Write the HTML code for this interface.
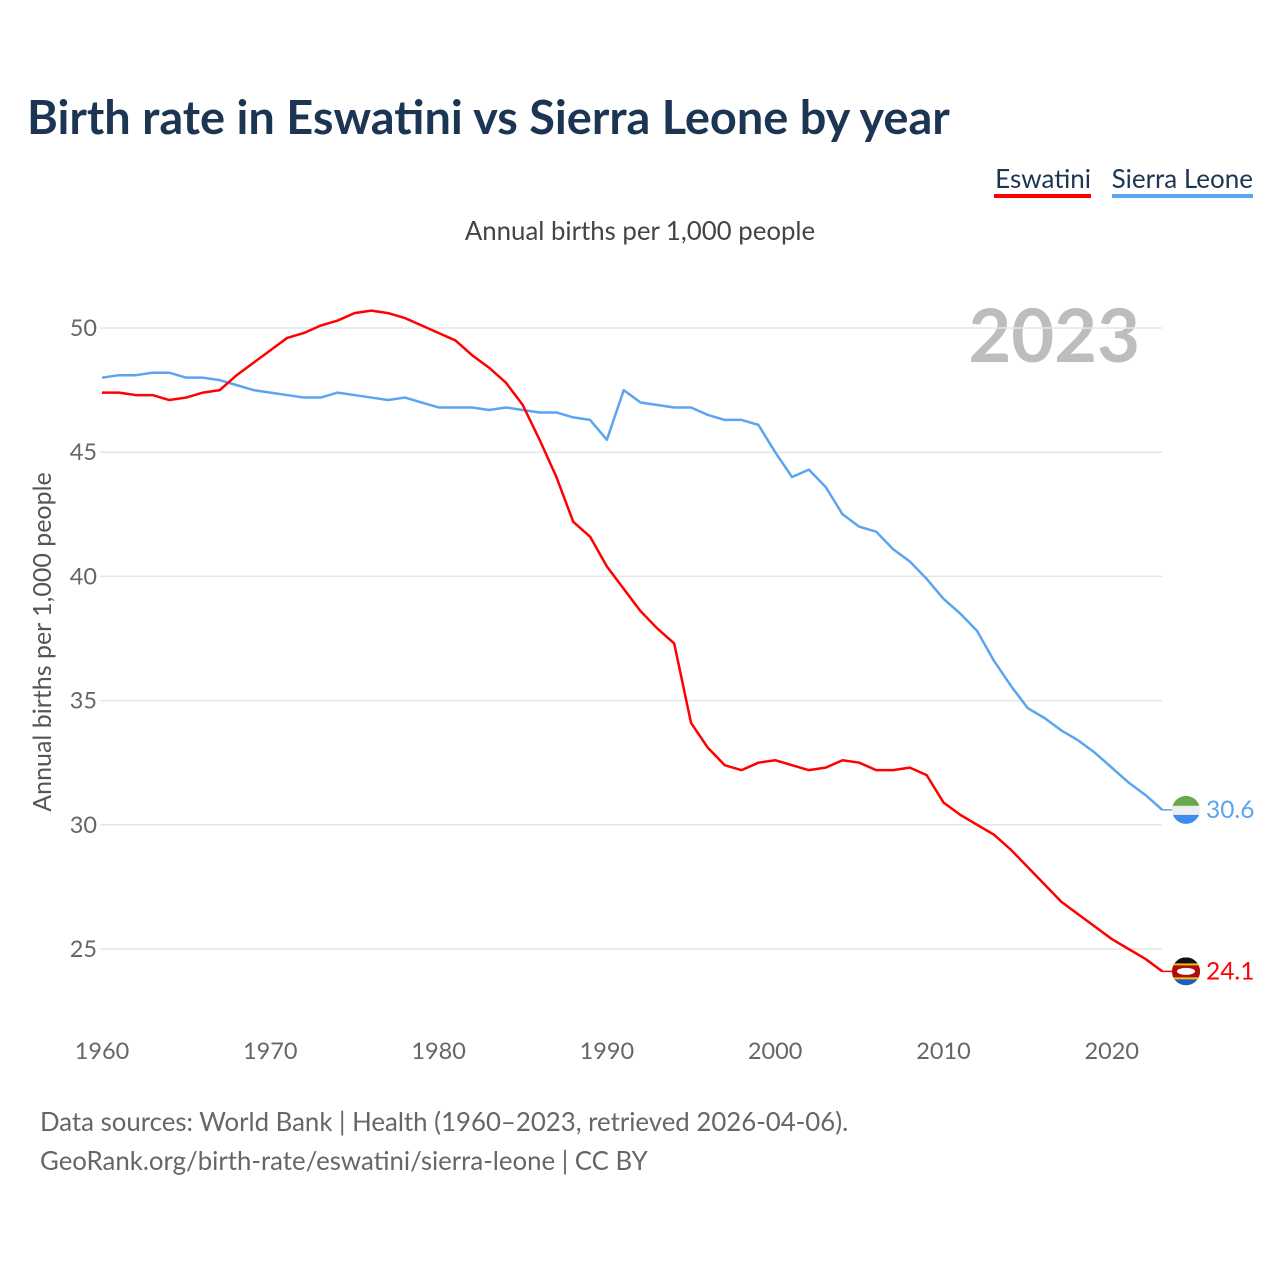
<!DOCTYPE html>
<html><head><meta charset="utf-8"><style>
body{margin:0;background:#fff;font-family:"Liberation Sans",sans-serif}
#wrap{position:relative;width:1280px;height:1280px;overflow:hidden}
</style></head><body>
<div id="wrap">
<svg id="chart" width="1280" height="1280" font-family="Lato, 'Liberation Sans', sans-serif">
<text x="27" y="134" font-size="46.9" font-weight="bold" fill="#1c3553">Birth rate in Eswatini vs Sierra Leone by year</text>
<g><text x="1091" y="188" font-size="26" fill="#1c3553" text-anchor="end">Eswatini</text><rect x="994" y="194" width="97" height="4" fill="#ff0000"/></g>
<g><text x="1253" y="188" font-size="26" fill="#1c3553" text-anchor="end">Sierra Leone</text><rect x="1112" y="194" width="141" height="4" fill="#5aa5f0"/></g>
<text x="640" y="240" font-size="25.8" fill="#444" text-anchor="middle">Annual births per 1,000 people</text>
<text x="1140" y="362" font-size="74" font-weight="bold" fill="#bdbdbd" text-anchor="end">2023</text>
<text transform="translate(51,642) rotate(-90)" font-size="25" fill="#555" text-anchor="middle">Annual births per 1,000 people</text>
<g id="grid"></g><g id="yticks"></g><g id="xticks"></g><g id="lines"></g><g id="ends"></g>
<text x="40" y="1131" font-size="25.8" fill="#666">Data sources: World Bank | Health (1960–2023, retrieved 2026-04-06).</text>
<text x="40" y="1170" font-size="25.8" fill="#666">GeoRank.org/birth-rate/eswatini/sierra-leone | CC BY</text>
</svg>
</div>
<script>
const years=[];for(let y=1960;y<=2023;y++)years.push(y);
const eswatini=[47.4,47.4,47.3,47.3,47.1,47.2,47.4,47.5,48.1,48.6,49.1,49.6,49.8,50.1,50.3,50.6,50.7,50.6,50.4,50.1,49.8,49.5,48.9,48.4,47.8,46.9,45.5,44.0,42.2,41.6,40.4,39.5,38.6,37.9,37.3,34.1,33.1,32.4,32.2,32.5,32.6,32.4,32.2,32.3,32.6,32.5,32.2,32.2,32.3,32.0,30.9,30.4,30.0,29.6,29.0,28.3,27.6,26.9,26.4,25.9,25.4,25.0,24.6,24.1];
const sierraLeone=[48.0,48.1,48.1,48.2,48.2,48.0,48.0,47.9,47.7,47.5,47.4,47.3,47.2,47.2,47.4,47.3,47.2,47.1,47.2,47.0,46.8,46.8,46.8,46.7,46.8,46.7,46.6,46.6,46.4,46.3,45.5,47.5,47.0,46.9,46.8,46.8,46.5,46.3,46.3,46.1,45.0,44.0,44.3,43.6,42.5,42.0,41.8,41.1,40.6,39.9,39.1,38.5,37.8,36.6,35.6,34.7,34.3,33.8,33.4,32.9,32.3,31.7,31.2,30.6];
const yTicks=[25,30,35,40,45,50];
const xTicks=[1960,1970,1980,1990,2000,2010,2020];
const NS="http://www.w3.org/2000/svg";
const x=v=>102+(v-1960)*16.83;
const y=v=>328+(50-v)*24.84;
function mk(tag,attrs,parent){const e=document.createElementNS(NS,tag);for(const k in attrs)e.setAttribute(k,attrs[k]);document.getElementById(parent).appendChild(e);return e;}
yTicks.forEach(t=>{
 const l=mk('line',{x1:100,x2:1162,y1:y(t),y2:y(t),stroke:'#e6e6e6','stroke-width':1.5},'grid');
 
 
 const tx=mk('text',{x:97,y:y(t)+8,'font-size':23.5,fill:'#666','text-anchor':'end'},'yticks');
 tx.textContent=t;
 
 
});
xTicks.forEach(t=>{
 const tx=mk('text',{x:x(t),y:1059,'font-size':23.5,fill:'#666','text-anchor':'middle'},'xticks');
 tx.textContent=t;
 
 
});
function line(data,color,name){
 const p=mk('polyline',{points:data.map((v,i)=>x(years[i])+','+y(v)).join(' '),fill:'none',stroke:color,'stroke-width':2.5,'stroke-linejoin':'round'},'lines');
 
 
}
line(sierraLeone,'#5aa5f0','sierra-leone-line');
line(eswatini,'#ff0000','eswatini-line');
function endLabel(data,color,name,flag){
 const v=data[data.length-1],yy=y(v),cx=1186;
 mk('line',{x1:x(2023),x2:cx,y1:yy,y2:yy,stroke:color,'stroke-width':1.5},'ends');
 const g=mk('g',{},'ends');
 
 
 flag(g,cx,yy);
 const t=mk('text',{x:1206,y:yy+8,'font-size':24.5,fill:color},'ends');
 t.textContent=v.toFixed(1);
 
 
}
function addTo(g,tag,attrs){const e=document.createElementNS(NS,tag);for(const k in attrs)e.setAttribute(k,attrs[k]);g.appendChild(e);return e;}
endLabel(sierraLeone,'#5aa5f0','sierra-leone',(g,cx,cy)=>{
 const id='clipSL';const cp=addTo(g,'clipPath',{id});addTo(cp,'circle',{cx,cy,r:14});
 const h=addTo(g,'g',{'clip-path':'url(#'+id+')'});
 addTo(h,'rect',{x:cx-14,y:cy-14,width:28,height:10,fill:'#6aa84f'});
 addTo(h,'rect',{x:cx-14,y:cy-4,width:28,height:9,fill:'#eeeeee'});
 addTo(h,'rect',{x:cx-14,y:cy+5,width:28,height:10,fill:'#3d8ef0'});
});
endLabel(eswatini,'#ff0000','eswatini',(g,cx,cy)=>{
 const id='clipSZ';const cp=addTo(g,'clipPath',{id});addTo(cp,'circle',{cx,cy,r:14});
 const h=addTo(g,'g',{'clip-path':'url(#'+id+')'});
 addTo(h,'rect',{x:cx-14,y:cy-14,width:28,height:28,fill:'#1b5fbf'});
 addTo(h,'rect',{x:cx-14,y:cy-8,width:28,height:16,fill:'#f5c400'});
 addTo(h,'rect',{x:cx-14,y:cy-6,width:28,height:12,fill:'#b10c0c'});
 addTo(h,'ellipse',{cx,cy,rx:9,ry:3.5,fill:'#fff'});
 addTo(h,'rect',{x:cx-14,y:cy-14,width:28,height:6,fill:'#111'});
});
</script>
</body></html>
